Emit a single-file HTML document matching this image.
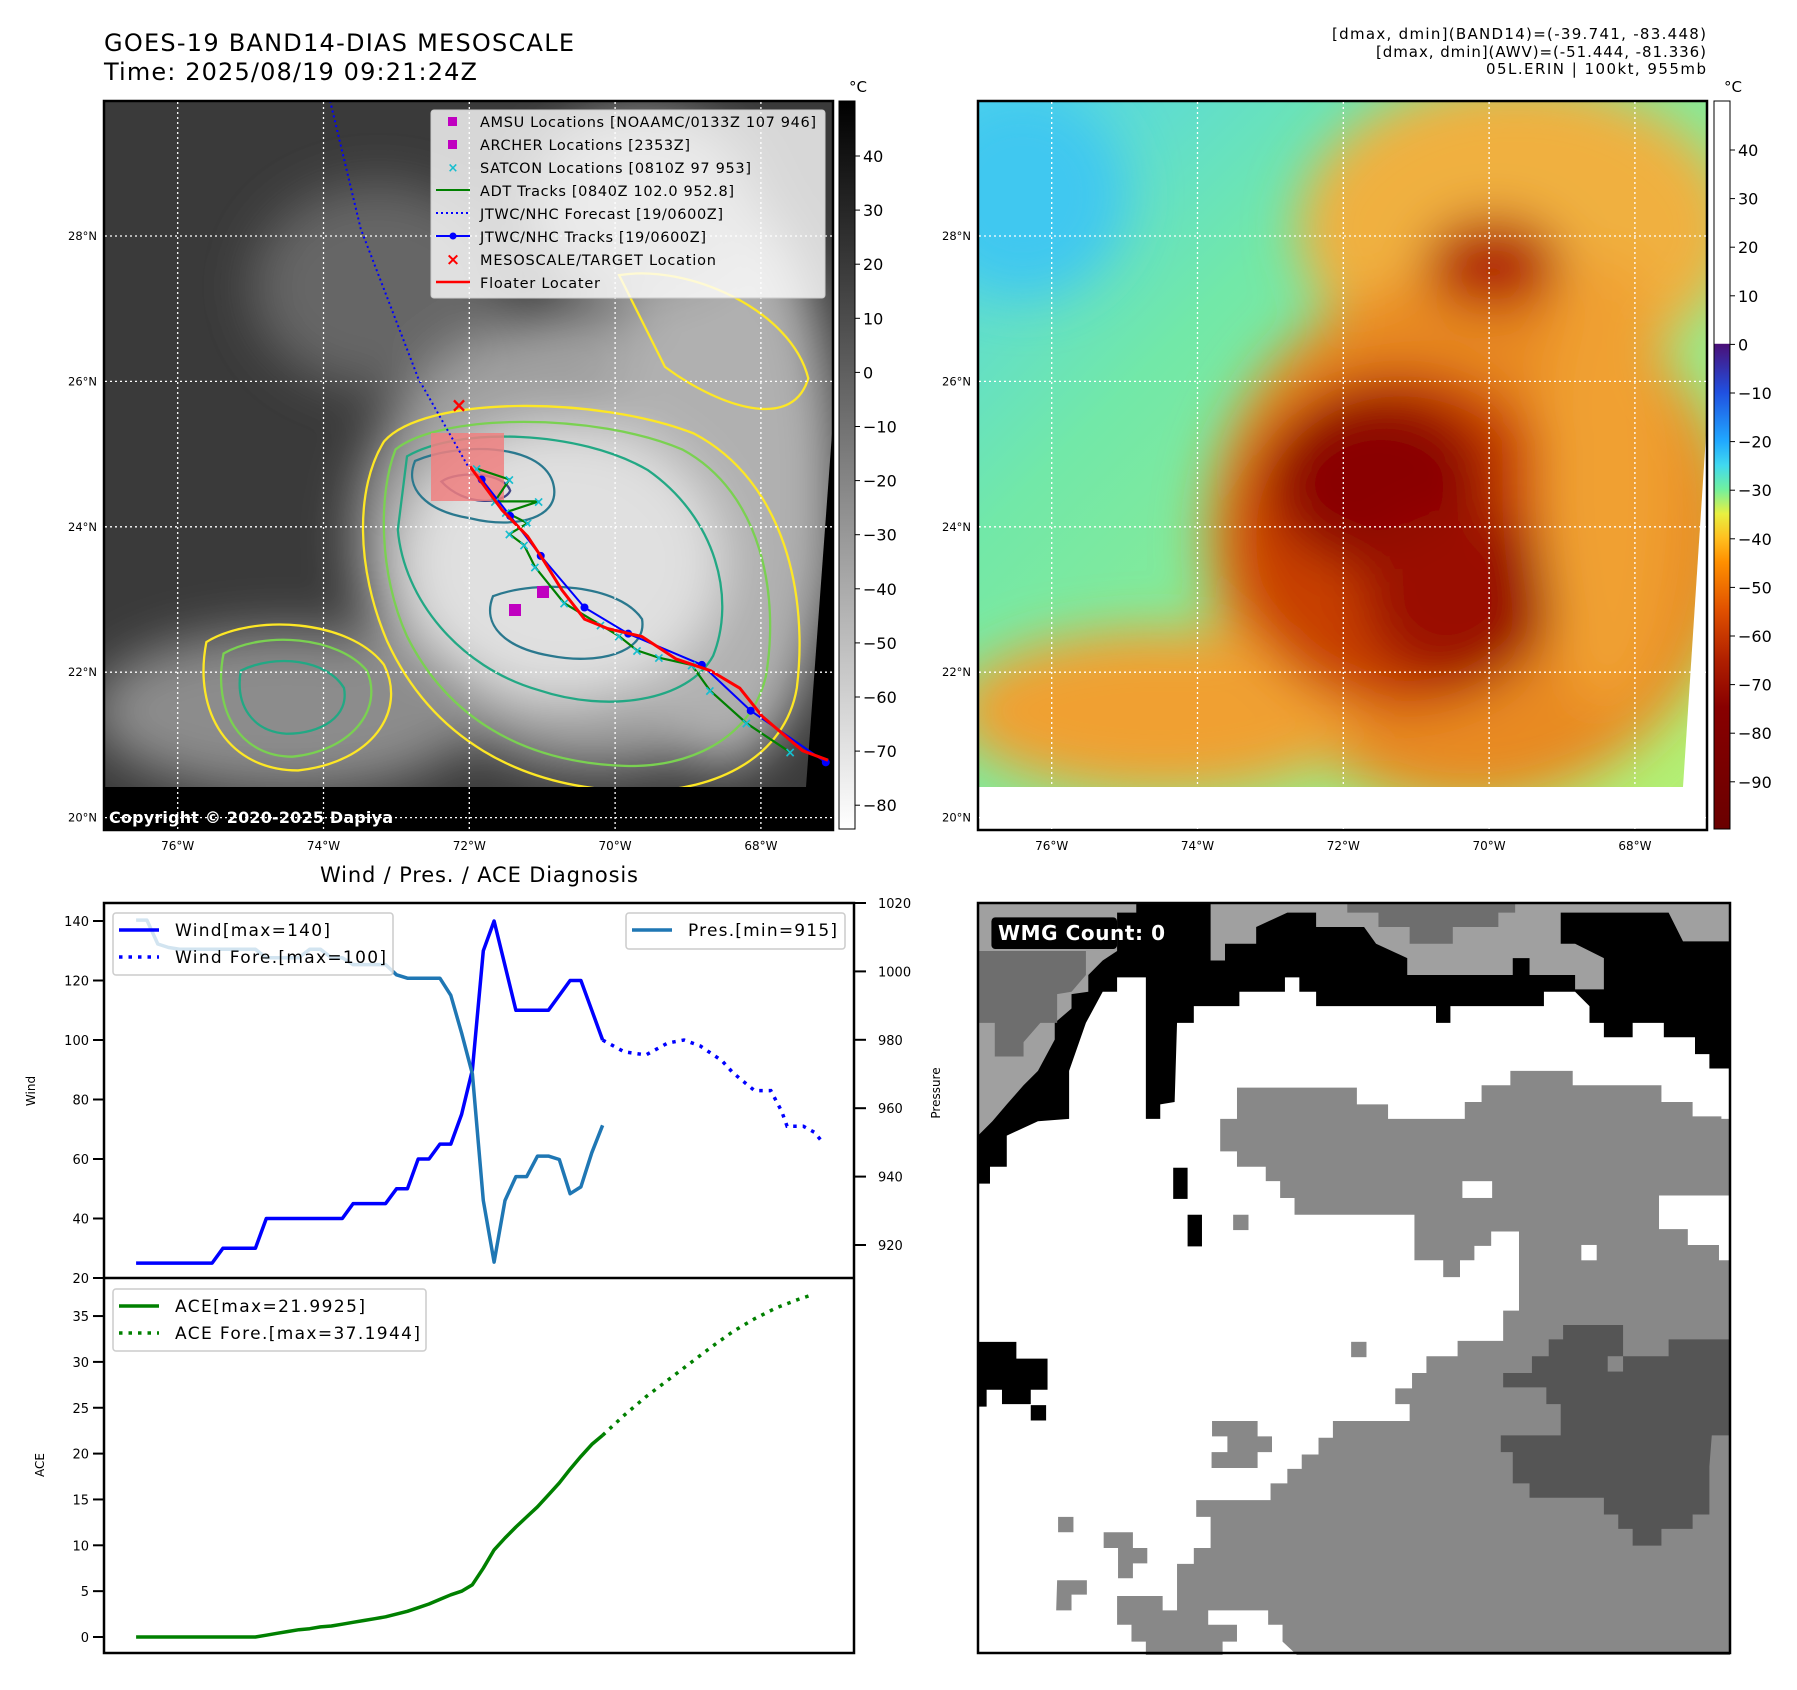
<!DOCTYPE html>
<html><head><meta charset="utf-8"><title>GOES-19 Band 14 mesoscale view and wind, pressure and ACE diagnosis for 05L Erin</title>
<style>html,body{margin:0;padding:0;background:#fff;}svg{display:block;font-family:"DejaVu Sans","Liberation Sans",sans-serif;}</style>
</head><body>
<svg id="root" width="1797" height="1690" viewBox="0 0 1797 1690" xmlns="http://www.w3.org/2000/svg">
<defs>
<filter id="blur" x="-30%" y="-30%" width="160%" height="160%"><feGaussianBlur stdDeviation="22"/></filter>
<filter id="blur2" x="-30%" y="-30%" width="160%" height="160%"><feGaussianBlur stdDeviation="10"/></filter>
<clipPath id="clip1"><rect x="104" y="101" width="729" height="729"/></clipPath>
<clipPath id="clip2"><rect x="978" y="101" width="729" height="729"/></clipPath>
<linearGradient id="cb1" x1="0" y1="0" x2="0" y2="1"><stop offset="0" stop-color="#000"/><stop offset="1" stop-color="#fff"/></linearGradient>
<linearGradient id="cb2" x1="0" y1="0" x2="0" y2="1">
<stop offset="0" stop-color="#fff"/><stop offset="0.333" stop-color="#fff"/><stop offset="0.334" stop-color="#4a1078"/>
<stop offset="0.40" stop-color="#2050e0"/><stop offset="0.467" stop-color="#20a8ff"/><stop offset="0.50" stop-color="#40d8f0"/>
<stop offset="0.533" stop-color="#70f0a0"/><stop offset="0.567" stop-color="#e8f040"/><stop offset="0.60" stop-color="#ffc020"/>
<stop offset="0.633" stop-color="#ff9000"/><stop offset="0.70" stop-color="#e05000"/><stop offset="0.767" stop-color="#b02000"/>
<stop offset="0.833" stop-color="#880000"/><stop offset="1" stop-color="#6a0000"/></linearGradient>
<linearGradient id="m2base" x1="0" y1="0" x2="1" y2="1"><stop offset="0" stop-color="#50d4ee"/><stop offset="0.3" stop-color="#72e8a8"/><stop offset="1" stop-color="#b8f070"/></linearGradient>
</defs>

<!-- titles -->
<text x="104" y="51" font-size="24" textLength="470">GOES-19 BAND14-DIAS MESOSCALE</text>
<text x="104" y="80" font-size="24" textLength="373">Time: 2025/08/19 09:21:24Z</text>
<text x="1706" y="39" font-size="15" text-anchor="end" textLength="374">[dmax, dmin](BAND14)=(-39.741, -83.448)</text>
<text x="1706" y="57" font-size="15" text-anchor="end" textLength="330">[dmax, dmin](AWV)=(-51.444, -81.336)</text>
<text x="1706" y="74" font-size="15" text-anchor="end" textLength="220">05L.ERIN | 100kt, 955mb</text>

<!-- MAP 1 -->
<g clip-path="url(#clip1)">
 <rect x="104" y="101" width="729" height="729" fill="#3a3a3a"/>
 <g transform="scale(1.1465)" filter="url(#blur)">
  <ellipse cx="330" cy="250" rx="110" ry="90" fill="#666"/>
  <ellipse cx="520" cy="470" rx="210" ry="200" fill="#a0a0a0"/>
  <ellipse cx="630" cy="420" rx="100" ry="250" fill="#b0b0b0"/>
  <ellipse cx="490" cy="490" rx="140" ry="120" fill="#e0e0e0"/>
  <ellipse cx="250" cy="620" rx="170" ry="70" fill="#8c8c8c"/>
  <ellipse cx="560" cy="180" rx="100" ry="80" fill="#999"/>
 </g>
 <g transform="scale(1.1465)" fill="none" stroke-width="2">
  <path d="M335,385 C370,345 520,345 605,378 C685,420 705,520 695,600 C685,660 625,690 560,690 C450,690 375,640 338,560 C310,495 310,425 335,385 Z" stroke="#fde725"/>
  <path d="M180,560 C220,535 305,540 335,580 C355,620 325,665 260,672 C200,672 168,622 180,560 Z" stroke="#fde725"/>
  <path d="M540,240 C600,230 690,270 705,330 C690,380 620,350 580,320 Z" stroke="#fde725"/>
  <path d="M345,392 C385,360 520,360 595,392 C665,430 680,520 668,590 C655,645 600,670 545,668 C455,665 390,625 355,555 C330,500 330,430 345,392 Z" stroke="#7ad151"/>
  <path d="M195,570 C230,550 295,555 320,585 C335,620 305,655 255,660 C210,660 185,620 195,570 Z" stroke="#7ad151"/>
  <path d="M355,398 C400,372 505,375 565,410 C625,452 642,522 622,572 C600,612 530,622 470,602 C400,582 352,522 347,462 Z" stroke="#22a884"/>
  <path d="M210,585 C240,570 285,575 300,600 C305,625 280,640 250,640 C220,638 205,615 210,585 Z" stroke="#22a884"/>
  <path d="M362,402 C400,386 470,386 482,420 C492,452 450,462 410,452 C372,446 352,426 362,402 Z" stroke="#2a788e"/>
  <path d="M430,520 C470,505 540,510 560,540 C565,570 520,580 480,572 C440,565 420,545 430,520 Z" stroke="#2a788e"/>
  <path d="M385,420 C400,410 440,412 445,428 C440,440 405,442 385,420 Z" stroke="#414487"/>
 </g>
 <rect x="104" y="787" width="729" height="43" fill="#000"/>
 <polygon points="833,420 806,787 833,787" fill="#000"/>
 <rect x="431" y="433" width="73" height="68" fill="#f08080" opacity="0.85"/>
 <g id="tracks1"></g>
</g>
<rect x="104" y="101" width="729" height="729" fill="none" stroke="#000" stroke-width="2.5"/>
<text x="109" y="823" font-size="16" font-weight="bold" fill="#fff" textLength="284">Copyright © 2020-2025 Dapiya</text>
<g id="grid1"></g>

<!-- legend map1 -->
<g>
 <rect x="431" y="110" width="394" height="188" rx="3" fill="#fff" fill-opacity="0.8" stroke="#ccc"/>
 <rect x="448" y="117" width="9" height="9" fill="#c000c0"/>
 <text x="480" y="127" font-size="14.5" textLength="336">AMSU Locations [NOAAMC/0133Z 107 946]</text>
 <rect x="448" y="140" width="9" height="9" fill="#c000c0"/>
 <text x="480" y="150" font-size="14.5" textLength="210">ARCHER Locations [2353Z]</text>
 <text x="453" y="172" font-size="13" fill="#17becf" text-anchor="middle" font-weight="bold">×</text>
 <text x="480" y="173" font-size="14.5" textLength="271">SATCON Locations [0810Z 97 953]</text>
 <line x1="436" y1="190" x2="470" y2="190" stroke="#008000" stroke-width="2"/>
 <text x="480" y="196" font-size="14.5" textLength="254">ADT Tracks [0840Z 102.0 952.8]</text>
 <line x1="436" y1="213" x2="470" y2="213" stroke="#0000ff" stroke-width="2" stroke-dasharray="2,3"/>
 <text x="480" y="219" font-size="14.5" textLength="243">JTWC/NHC Forecast [19/0600Z]</text>
 <line x1="436" y1="236" x2="470" y2="236" stroke="#0000ff" stroke-width="2"/><circle cx="453" cy="236" r="3.5" fill="#0000ff"/>
 <text x="480" y="242" font-size="14.5" textLength="226">JTWC/NHC Tracks [19/0600Z]</text>
 <text x="453" y="265" font-size="17" fill="#ff0000" text-anchor="middle" font-weight="bold">×</text>
 <text x="480" y="265" font-size="14.5" textLength="236">MESOSCALE/TARGET Location</text>
 <line x1="436" y1="282" x2="470" y2="282" stroke="#ff0000" stroke-width="2.5"/>
 <text x="480" y="288" font-size="14.5" textLength="120">Floater Locater</text>
</g>

<!-- colorbar 1 -->
<rect x="839" y="101" width="16" height="728" fill="url(#cb1)" stroke="#000" stroke-width="1"/>
<text x="849" y="92" font-size="15">°C</text>
<g id="cbt1"></g>

<!-- MAP 2 -->
<g clip-path="url(#clip2)">
 <rect x="978" y="101" width="729" height="729" fill="url(#m2base)"/>
 <g transform="translate(874,0) scale(1.1465)" filter="url(#blur)">
  <ellipse cx="130" cy="170" rx="90" ry="90" fill="#40c8f0"/>
  <ellipse cx="560" cy="200" rx="190" ry="130" fill="#f0b040"/>
  <ellipse cx="520" cy="470" rx="230" ry="230" fill="#e88a20"/>
  <ellipse cx="250" cy="620" rx="180" ry="70" fill="#f0a030"/>
  <ellipse cx="460" cy="470" rx="150" ry="150" fill="#c84000"/>
  <ellipse cx="440" cy="420" rx="95" ry="75" fill="#8a0000"/>
  <ellipse cx="510" cy="520" rx="85" ry="75" fill="#9a0800"/>
  <ellipse cx="540" cy="230" rx="60" ry="40" fill="#b02000"/>
  <ellipse cx="640" cy="420" rx="60" ry="200" fill="#f0a030"/>
 </g>
 <rect x="978" y="787" width="729" height="43" fill="#fff"/>
 <polygon points="1707,420 1683,787 1707,787" fill="#fff"/>
</g>
<rect x="978" y="101" width="729" height="729" fill="none" stroke="#000" stroke-width="2.5"/>
<g id="grid2"></g>
<rect x="1714" y="101" width="16" height="728" fill="url(#cb2)" stroke="#000" stroke-width="1"/>
<text x="1724" y="92" font-size="15">°C</text>
<g id="cbt2"></g>

<!-- Wind / Pres / ACE -->
<text x="479" y="882" font-size="21" text-anchor="middle" textLength="318">Wind / Pres. / ACE Diagnosis</text>
<g id="chart"></g>
<rect x="104" y="903" width="750" height="750" fill="none" stroke="#000" stroke-width="2.5"/>
<line x1="104" y1="1278" x2="854" y2="1278" stroke="#000" stroke-width="2.5"/>
<text transform="translate(35,1091) rotate(-90)" font-size="12" text-anchor="middle">Wind</text>
<text transform="translate(940,1093) rotate(-90)" font-size="12" text-anchor="middle">Pressure</text>
<text transform="translate(44,1465) rotate(-90)" font-size="12" text-anchor="middle">ACE</text>

<!-- WMG -->
<g>
<g transform="translate(978,903) scale(0.4796)">
 <rect x="0" y="0" width="1568" height="1568" fill="#fff"/>
 <polygon fill="#000" points="0,585 25,585 25,550 60,550 60,485 125,455 190,450 190,350 225,250 260,185 290,185 290,155 350,155 350,450 380,450 380,420 410,415 415,250 450,250 450,215 545,215 545,185 640,185 640,155 670,155 670,185 705,185 705,215 955,215 955,250 985,250 985,215 1180,215 1180,185 1245,185 1275,215 1275,250 1305,250 1305,280 1365,280 1365,250 1430,250 1430,280 1495,280 1495,315 1525,315 1525,345 1568,345 1568,0 0,0"/>
 <polygon fill="#a0a0a0" points="0,0 330,0 330,20 290,20 290,100 260,120 230,150 230,185 195,190 195,220 160,250 160,285 125,350 95,380 60,420 30,455 0,485"/>
 <polygon fill="#6e6e6e" points="0,100 225,100 225,150 195,185 165,190 165,250 130,250 95,290 95,320 35,320 35,250 0,250"/>
 <polygon fill="#a0a0a0" points="485,0 1568,0 1568,80 1470,80 1440,20 1215,20 1215,85 1245,85 1305,115 1305,180 1245,180 1245,150 1150,150 1150,115 1115,115 1115,150 895,150 895,115 830,85 805,50 705,50 705,20 645,20 580,50 580,85 515,85 515,120 485,120"/>
 <polygon fill="#6e6e6e" points="770,0 1120,0 1120,20 1085,20 1085,50 990,50 990,85 900,85 900,50 835,50 835,20 770,20"/>
 <polygon fill="#888" points="505,450 540,450 540,385 790,385 790,450 855,450 855,480 790,480 790,450 760,450 760,420 855,420 855,450 1015,450 1015,415 1050,415 1050,380 1110,380 1110,350 1240,350 1240,380 1425,380 1425,415 1490,415 1490,445 1550,445 1550,450 1568,450 1568,610 1420,610 1420,680 1480,680 1480,713 1545,713 1545,745 1568,745 1568,1568 665,1568 635,1540 635,1505 605,1505 605,1475 480,1475 480,1505 540,1505 540,1540 510,1540 510,1568 350,1568 350,1540 320,1540 320,1505 290,1505 290,1445 385,1445 385,1475 415,1475 415,1378 450,1378 450,1345 545,1345 545,1375 485,1375 485,1280 455,1280 455,1245 610,1245 610,1210 645,1210 645,1180 675,1180 675,1150 710,1150 710,1115 740,1115 740,1080 900,1080 900,1045 870,1045 870,1012 905,1012 905,980 935,980 935,945 1000,945 1000,913 1095,913 1095,850 1128,850 1128,685 1070,685 1070,715 1035,715 1035,745 1005,745 1005,780 970,780 970,745 910,745 910,650 660,650 660,615 630,615 630,580 600,580 600,550 540,550 540,518 505,518"/>
 <rect x="1010" y="580" width="62" height="35" fill="#fff"/>
 <rect x="1258" y="713" width="32" height="32" fill="#fff"/>
 <polygon fill="#555" points="1220,880 1345,880 1345,945 1440,945 1440,910 1568,910 1568,1110 1530,1110 1525,1175 1525,1275 1490,1275 1490,1305 1425,1305 1425,1340 1365,1340 1365,1305 1335,1305 1335,1275 1305,1275 1305,1240 1150,1240 1150,1210 1115,1210 1115,1145 1090,1145 1090,1110 1215,1110 1215,1045 1185,1045 1185,1010 1095,1010 1095,980 1155,980 1155,945 1190,945 1190,910 1220,910"/>
 <rect x="1313" y="945" width="32" height="32" fill="#888"/>
 <rect x="407" y="552" width="30" height="65" fill="#000"/>
 <rect x="437" y="650" width="30" height="66" fill="#000"/>
 <rect x="532" y="650" width="32" height="32" fill="#888"/>
 <rect x="778" y="915" width="32" height="32" fill="#888"/>
 <rect x="167" y="1280" width="32" height="32" fill="#888"/>
 <polygon fill="#000" points="0,915 80,915 80,950 145,950 145,1015 110,1015 110,1045 50,1045 50,1015 18,1015 18,1050 0,1050"/>
 <rect x="110" y="1047" width="32" height="32" fill="#000"/>
 <polygon fill="#888" points="488,1080 583,1080 583,1112 613,1112 613,1145 583,1145 583,1178 487,1178 487,1145 520,1145 520,1112 488,1112"/>
 <polygon fill="#888" points="262,1312 323,1312 323,1345 353,1345 353,1377 323,1377 323,1408 292,1408 292,1345 262,1345"/>
 <polygon fill="#888" points="165,1412 227,1412 227,1442 195,1442 195,1475 163,1475"/>
 <rect x="28" y="30" width="262" height="66" rx="8" fill="#000"/>
</g>
<text x="998" y="940" font-size="20" font-weight="bold" fill="#fff" textLength="167">WMG Count: 0</text>
<rect x="978" y="903" width="752" height="750" fill="none" stroke="#000" stroke-width="2.5"/>
</g>

<script>
// ---------- chart data ----------
const windIdx = [0,1,2,3,4,5,6,7,8,9,10,11,12,13,14,15,16,17,18,19,20,21,22,23,24,25,26,27,28,29,30,31,32,33,34,35,36,37,38,39,40,41,42,43];
const windVals = [25,25,25,25,25,25,25,25,30,30,30,30,40,40,40,40,40,40,40,40,45,45,45,45,50,50,60,60,65,65,75,90,130,140,125,110,110,110,110,115,120,120,110,100];
const foreIdx = [43,45,47,49,50.5,52,54,55,56,57,58.5,59.5,60,61.5,62.5,63.2];
const foreVals = [100,96,95,99,100,98,93,89,86,83,83,76,71,71,69,66];
const presVals = [1015,1015,1008,1007,1006.5,1006.5,1006.5,1006.5,1006.5,1006.5,1006.5,1006.5,1004,1004,1004,1004,1006.5,1006.5,1004,1004,1002,1002,1002,1002,999,998,998,998,998,993,982,970,933,915,933,940,940,946,946,945,935,937,947,955];
const aceVals = [0,0,0,0,0,0,0,0,0,0,0,0,0.2,0.4,0.6,0.8,0.9,1.1,1.2,1.4,1.6,1.8,2.0,2.2,2.5,2.8,3.2,3.6,4.1,4.6,5.0,5.7,7.5,9.5,10.8,12.0,13.1,14.2,15.5,16.8,18.3,19.7,21.0,22.0];
const aceForeIdx = [43,45,47,49,51,53,55,57,59,61,62];
const aceForeVals = [22,24.2,26.2,28.0,29.8,31.6,33.3,34.7,35.9,36.8,37.2];
const windTicks = [20,40,60,80,100,120,140];
const presTicks = [920,940,960,980,1000,1020];
const aceTicks = [0,5,10,15,20,25,30,35];
const cb1Ticks = [40,30,20,10,0,-10,-20,-30,-40,-50,-60,-70,-80];
const cb2Ticks = [40,30,20,10,0,-10,-20,-30,-40,-50,-60,-70,-80,-90];
const lonTicks = [-76,-74,-72,-70,-68];
const latTicks = [28,26,24,22,20];
// map tracks (lon/lat)
const floaterLon = [-71.99,-71.55,-71.20,-70.97,-70.73,-70.42,-70.10,-69.63,-69.16,-68.69,-68.29,-67.98,-67.43,-67.08];
const floaterLat = [24.83,24.23,23.87,23.52,23.13,22.73,22.60,22.49,22.18,22.02,21.78,21.39,20.92,20.79];
const fcstLon = [-73.91,-73.49,-72.70,-72.0];
const fcstLat = [29.86,28.1,26.04,24.8];
const bestLon = [-71.83,-71.44,-71.02,-70.42,-69.82,-68.81,-68.14,-67.11];
const bestLat = [24.65,24.15,23.60,22.89,22.53,22.10,21.47,20.76];
const adtLon = [-71.9,-71.45,-71.65,-71.05,-71.5,-71.2,-71.45,-71.25,-71.1,-70.7,-70.2,-69.95,-69.7,-69.4,-68.95,-68.7,-68.2,-67.6];
const adtLat = [24.8,24.65,24.35,24.35,24.2,24.05,23.9,23.75,23.45,22.95,22.65,22.5,22.3,22.2,22.1,21.75,21.3,20.9];

const NS = 'http://www.w3.org/2000/svg';
function mk(parent, tag, attrs, text){const e=document.createElementNS(NS,tag);for(const k in attrs)e.setAttribute(k,attrs[k]);if(text!==undefined)e.textContent=text;parent.appendChild(e);return e;}
const xS = i => 136.1 + i*10.85;
const wS = v => 1278 - (v-20)*2.975;
const pS = v => 903 + (1020-v)*3.42;
const aS = v => 1637 - v*9.17;
const lonX = lon => 177.7 + (lon+76)*72.9;
const latY = lat => 236 + (28-lat)*72.7;
function pts(xs, ys, fx, fy){return xs.map((x,i)=>fx(x).toFixed(1)+','+fy(ys[i]).toFixed(1)).join(' ');}

const chart = document.getElementById('chart');
windTicks.forEach(v=>{
  const t=mk(chart,'line',{x1:93,x2:104,y1:wS(v),y2:wS(v),stroke:'#000','stroke-width':2});
  
  
  const l=mk(chart,'text',{x:89,y:wS(v)+5,'font-size':13,'text-anchor':'end'},String(v));
  
  
});
presTicks.forEach(v=>{
  mk(chart,'line',{x1:854,x2:866,y1:pS(v),y2:pS(v),stroke:'#000','stroke-width':2});
  const l=mk(chart,'text',{x:878,y:pS(v)+5,'font-size':13},String(v));
  
  
});
aceTicks.forEach(v=>{
  mk(chart,'line',{x1:93,x2:104,y1:aS(v),y2:aS(v),stroke:'#000','stroke-width':2});
  const l=mk(chart,'text',{x:89,y:aS(v)+5,'font-size':13,'text-anchor':'end'},String(v));
  
  
});
const wl=mk(chart,'polyline',{points:pts(windIdx,windVals,xS,wS),fill:'none',stroke:'#0000ff','stroke-width':3.5,'stroke-linejoin':'round'});


const wf=mk(chart,'polyline',{points:pts(foreIdx,foreVals,xS,wS),fill:'none',stroke:'#0000ff','stroke-width':3.5,'stroke-dasharray':'3.5,6'});


const pl=mk(chart,'polyline',{points:pts(windIdx,presVals,xS,pS),fill:'none',stroke:'#1f77b4','stroke-width':3.5,'stroke-linejoin':'round'});


const al=mk(chart,'polyline',{points:pts(windIdx,aceVals,xS,aS),fill:'none',stroke:'#008000','stroke-width':3.5,'stroke-linejoin':'round'});


const af=mk(chart,'polyline',{points:pts(aceForeIdx,aceForeVals,xS,aS),fill:'none',stroke:'#008000','stroke-width':3.5,'stroke-dasharray':'3.5,6'});


function legend(x,y,w,h,items,name){
  const g=mk(chart,'g',{});
  
  
  mk(g,'rect',{x:x,y:y,width:w,height:h,rx:3,fill:'#fff','fill-opacity':0.8,stroke:'#ccc','stroke-width':1.5});
  items.forEach((it,k)=>{
    const yy=y+17+k*27;
    mk(g,'line',{x1:x+6,x2:x+46,y1:yy,y2:yy,stroke:it.c,'stroke-width':3.5,'stroke-dasharray':it.d?'3.5,6':'none'});
    mk(g,'text',{x:x+62,y:yy+6,'font-size':17,textLength:it.tl},it.t);
  });
}
legend(113,913,280,62,[{c:'#0000ff',t:'Wind[max=140]',tl:155},{c:'#0000ff',t:'Wind Fore.[max=100]',tl:211,d:1}],'wind-legend');
legend(626,913,219,36,[{c:'#1f77b4',t:'Pres.[min=915]',tl:149}],'pressure-legend');
legend(113,1289,313,62,[{c:'#008000',t:'ACE[max=21.9925]',tl:190},{c:'#008000',t:'ACE Fore.[max=37.1944]',tl:245,d:1}],'ace-legend');

function grid(gid, dx){
  const g=document.getElementById(gid);
  lonTicks.forEach(lon=>{
    const x=lonX(lon)+dx;
    mk(g,'line',{x1:x,x2:x,y1:102,y2:829,stroke:'#fff','stroke-width':1.3,'stroke-dasharray':'2,3'});
    const l=mk(g,'text',{x:x,y:850,'font-size':12,'text-anchor':'middle'},Math.abs(lon)+'°W');
    
    
  });
  latTicks.forEach(lat=>{
    const y=latY(lat);
    mk(g,'line',{x1:105+dx,x2:832+dx,y1:y,y2:y,stroke:'#fff','stroke-width':1.3,'stroke-dasharray':'2,3'});
    const l=mk(g,'text',{x:97+dx,y:y+4,'font-size':11.5,'text-anchor':'end'},lat+'°N');
    
    
  });
}
grid('grid1',0); grid('grid2',874);

function cbTicks(gid,ticks,x,y40,step){
  const g=document.getElementById(gid);
  ticks.forEach(v=>{
    const y=y40+(40-v)/10*step;
    mk(g,'line',{x1:x,x2:x+5,y1:y,y2:y,stroke:'#000'});
    const l=mk(g,'text',{x:x+8,y:y+6,'font-size':16},(v<0?'\u2212':'')+Math.abs(v));
    
    
  });
}
cbTicks('cbt1',cb1Ticks,855,156,54.1);
cbTicks('cbt2',cb2Ticks,1730,150,48.6);

const tg=document.getElementById('tracks1');
const fc=mk(tg,'polyline',{points:pts(fcstLon,fcstLat,lonX,latY),fill:'none',stroke:'#0000ff','stroke-width':2,'stroke-dasharray':'2,3'});


const ad=mk(tg,'polyline',{points:pts(adtLon,adtLat,lonX,latY),fill:'none',stroke:'#008000','stroke-width':2.2});


const bt=mk(tg,'polyline',{points:pts(bestLon,bestLat,lonX,latY),fill:'none',stroke:'#0000ff','stroke-width':2});


bestLon.forEach((lon,i)=>{const c=mk(tg,'circle',{cx:lonX(lon),cy:latY(bestLat[i]),r:4,fill:'#0000ff'});
  
  });
adtLon.forEach((lon,i)=>{const t=mk(tg,'text',{x:lonX(lon),y:latY(adtLat[i])+5,'font-size':14,'font-weight':'bold',fill:'#17becf','text-anchor':'middle'},'×');
  
  });
const fl=mk(tg,'polyline',{points:pts(floaterLon,floaterLat,lonX,latY),fill:'none',stroke:'#ff0000','stroke-width':3});


const tx=mk(tg,'text',{x:459,y:412,'font-size':20,'font-weight':'bold',fill:'#ff0000','text-anchor':'middle'},'×');


[[543,592],[515,610]].forEach(p=>{const r=mk(tg,'rect',{x:p[0]-6,y:p[1]-6,width:12,height:12,fill:'#c000c0'});
  
  });
</script>
</svg>
</body></html>
